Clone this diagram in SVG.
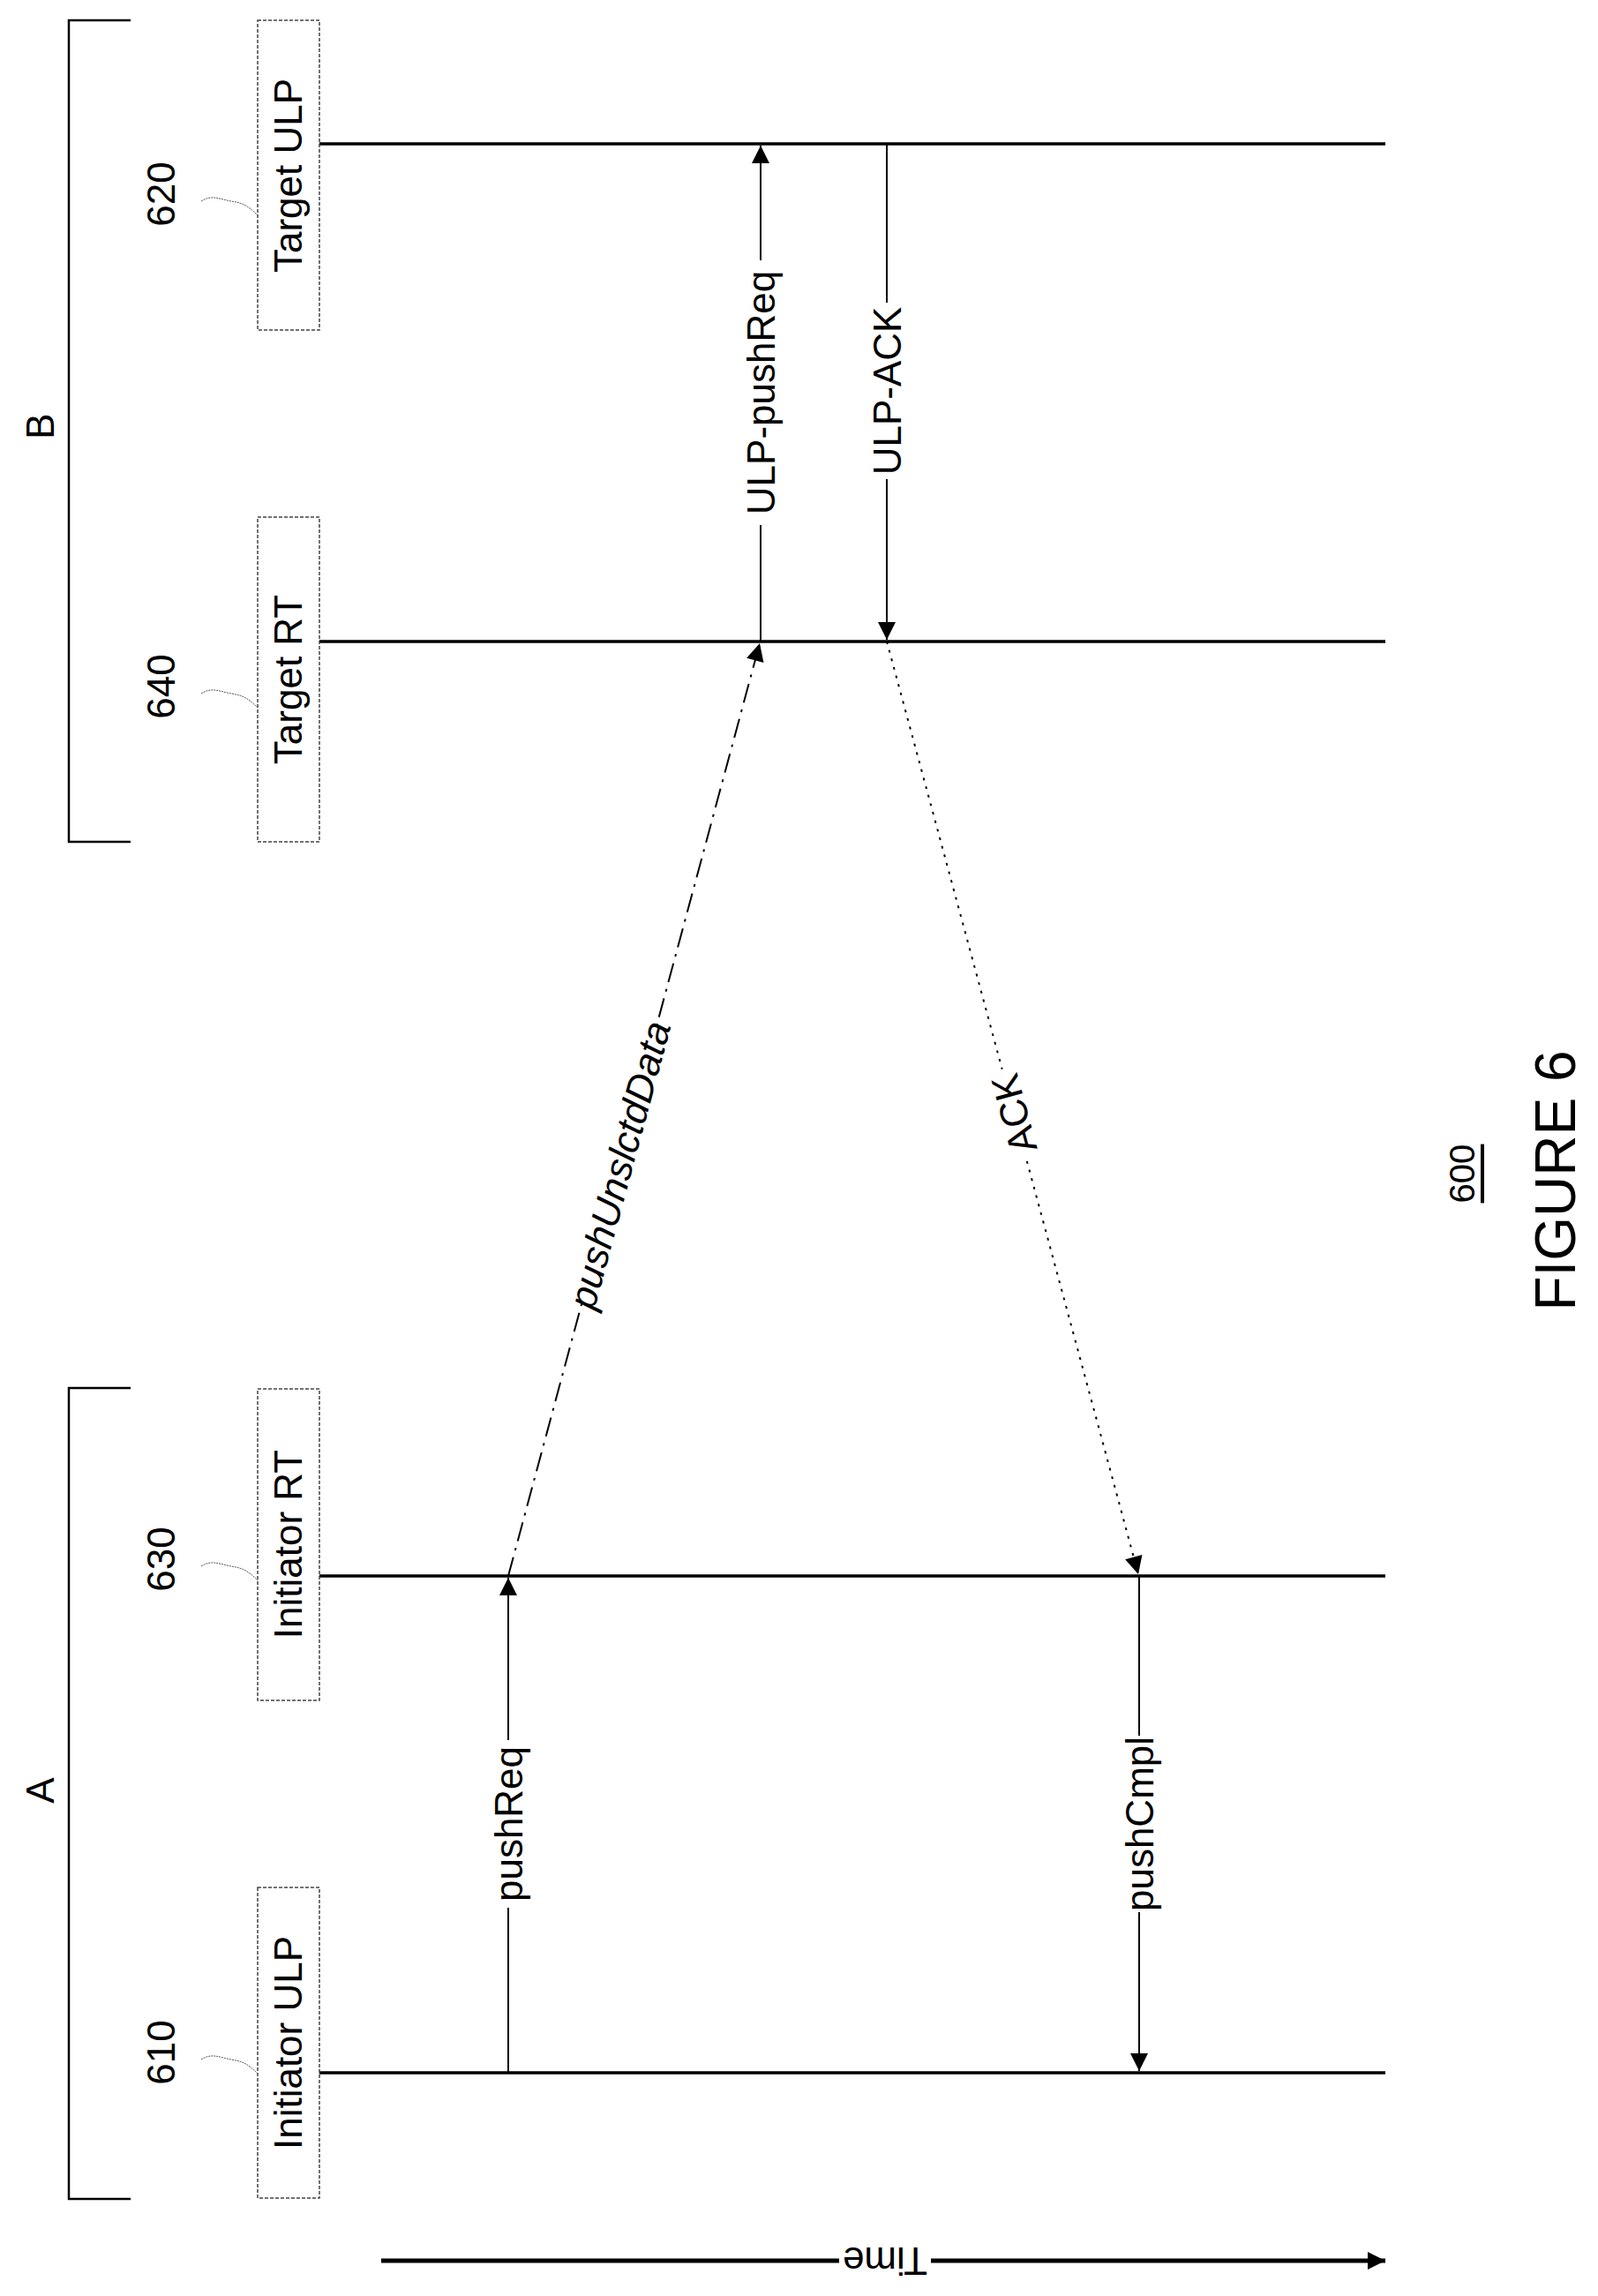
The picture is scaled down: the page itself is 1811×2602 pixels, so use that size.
<svg xmlns="http://www.w3.org/2000/svg" width="1811" height="2602" viewBox="0 0 1811 2602">
<style>
text{font-family:"Liberation Sans",Arial,sans-serif;fill:#000}
.t{font-size:44px;text-anchor:middle;dominant-baseline:central}
.box{fill:#fff;stroke:#444;stroke-width:1.5;stroke-dasharray:4,2}
.life{stroke:#000;stroke-width:3.5}
.br{fill:none;stroke:#000;stroke-width:2.5}
.msg{stroke:#000;stroke-width:2;fill:none}
.lead{fill:none;stroke:#555;stroke-width:1;stroke-dasharray:2,1}
.bg{fill:#fff;stroke:none}
</style>
<defs>
<marker id="ah2" viewBox="0 0 10 10" refX="10" refY="5" markerWidth="36" markerHeight="20" markerUnits="userSpaceOnUse" orient="auto"><path d="M0,0 L10,5 L0,10 z" fill="#000"/></marker>
</defs>
<g id="bracketB"><path class="br" d="M148,23 H78 V954 H148"/><text class="t" transform="translate(45,483) rotate(-90)">B</text></g>
<g id="bracketA"><path class="br" d="M148,1573 H78 V2492 H148"/><text class="t" transform="translate(45,2029) rotate(-90)">A</text></g>

<g id="n620"><path class="life" d="M362,163 H1570"/><rect class="box" x="292" y="23" width="70" height="351"/><text class="t" transform="translate(326,199) rotate(-90)">Target ULP</text><text class="t" transform="translate(182,220) rotate(-90)">620</text><path class="lead" d="M228,228 C240,220 250,226 262,228 S280,232 292,244"/></g>
<g id="n640"><path class="life" d="M362,727 H1570"/><rect class="box" x="292" y="586" width="70" height="368"/><text class="t" transform="translate(326,770) rotate(-90)">Target RT</text><text class="t" transform="translate(182,778) rotate(-90)">640</text><path class="lead" d="M228,786 C240,778 250,784 262,786 S280,790 292,802"/></g>
<g id="n630"><path class="life" d="M362,1786 H1570"/><rect class="box" x="292" y="1574" width="70" height="353"/><text class="t" transform="translate(326,1750) rotate(-90)">Initiator RT</text><text class="t" transform="translate(182,1767) rotate(-90)">630</text><path class="lead" d="M228,1775 C240,1767 250,1773 262,1775 S280,1779 292,1791"/></g>
<g id="n610"><path class="life" d="M362,2349 H1570"/><rect class="box" x="292" y="2139" width="70" height="352"/><text class="t" transform="translate(326,2315) rotate(-90)">Initiator ULP</text><text class="t" transform="translate(182,2326) rotate(-90)">610</text><path class="lead" d="M228,2334 C240,2326 250,2332 262,2334 S280,2338 292,2350"/></g>

<g id="connectors">
<line class="msg" x1="576" y1="2349" x2="576" y2="1788" marker-end="url(#ah2)"/>
<g transform="translate(576,2067) rotate(-90)"><rect class="bg" x="-95" y="-24" width="190" height="48"/><text class="t" x="0" y="0">pushReq</text></g>

<line class="msg" x1="576" y1="1786" x2="861" y2="729" stroke-dasharray="22,8,3,8" marker-end="url(#ah2)"/>
<g transform="translate(702,1320) rotate(-74.9)"><rect class="bg" x="-160" y="-24" width="320" height="48"/><text class="t" font-style="italic" x="0" y="0">pushUnslctdData</text></g>

<line class="msg" x1="862" y1="727" x2="862" y2="165" marker-end="url(#ah2)"/>
<g transform="translate(862,445) rotate(-90)"><rect class="bg" x="-150" y="-24" width="300" height="48"/><text class="t" x="0" y="0">ULP-pushReq</text></g>

<line class="msg" x1="1005" y1="163" x2="1005" y2="725" marker-end="url(#ah2)"/>
<g transform="translate(1005,443) rotate(-90)"><rect class="bg" x="-100" y="-24" width="200" height="48"/><text class="t" x="0" y="0">ULP-ACK</text></g>

<line class="msg" x1="1005" y1="727" x2="1290" y2="1784" stroke-dasharray="3,7" marker-end="url(#ah2)"/>
<g transform="translate(1149,1262) rotate(-105.1)"><rect class="bg" x="-52" y="-24" width="104" height="48"/><text class="t" x="0" y="0">ACK</text></g>

<line class="msg" x1="1291" y1="1786" x2="1291" y2="2347" marker-end="url(#ah2)"/>
<g transform="translate(1291,2067) rotate(-90)"><rect class="bg" x="-100" y="-24" width="200" height="48"/><text class="t" x="0" y="0">pushCmpl</text></g>
</g>

<g id="time">
<line x1="432" y1="2562" x2="1570" y2="2562" stroke="#000" stroke-width="5" marker-end="url(#ah2)"/>
<g transform="translate(1003,2562) rotate(180)"><rect class="bg" x="-52" y="-24" width="104" height="48"/><text class="t" font-size="40" x="0" y="0">Time</text></g>
</g>

<g id="caption">
<text font-size="40" text-anchor="middle" dominant-baseline="central" transform="translate(1657,1330) rotate(-90)" text-decoration="underline">600</text>
<text font-size="64" text-anchor="middle" dominant-baseline="central" transform="translate(1763,1338) rotate(-90)">FIGURE 6</text>
</g>
</svg>
